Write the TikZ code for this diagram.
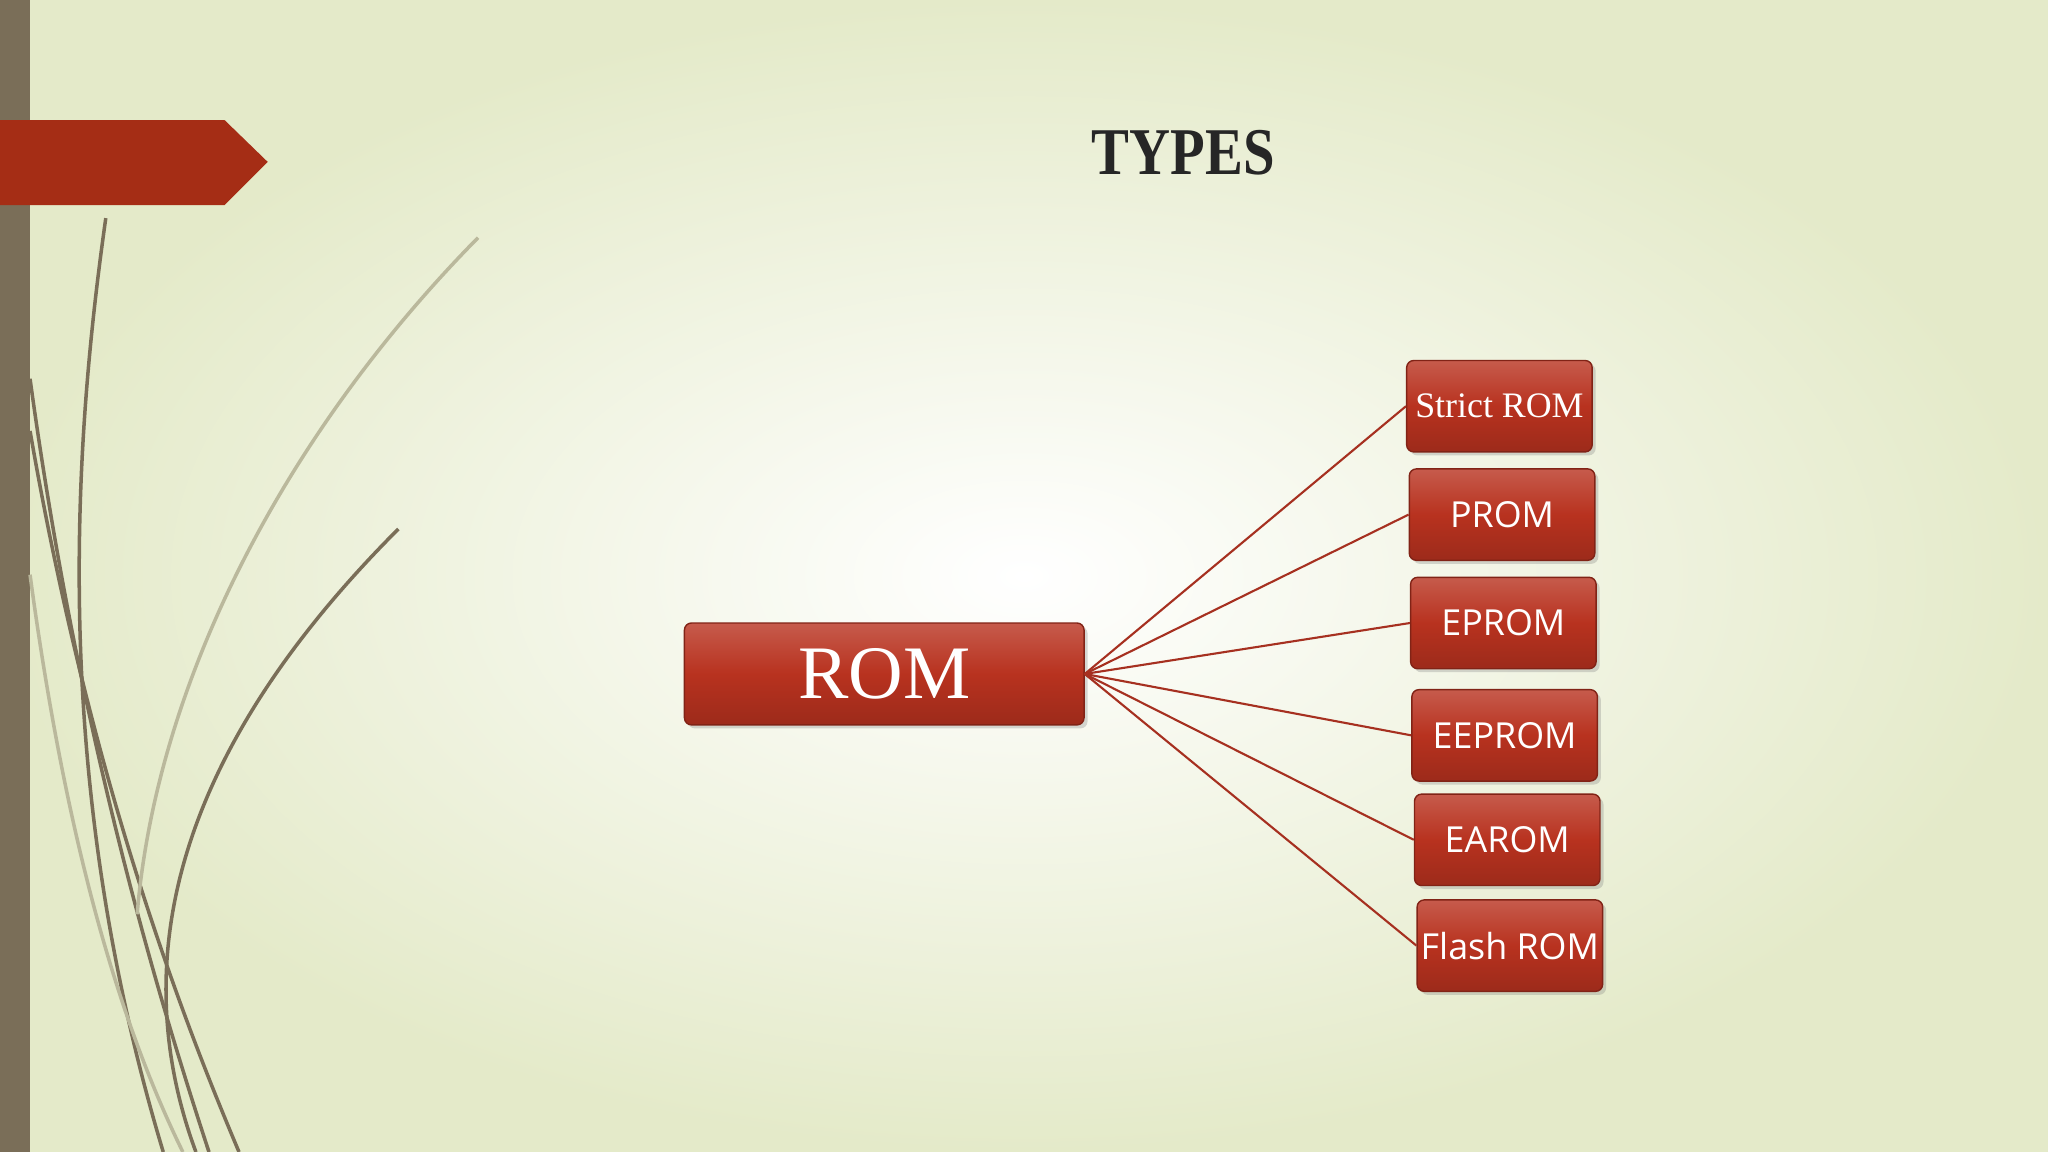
\documentclass[tikz,border=0pt]{standalone}
\usepackage{fontspec}
\setmainfont{Liberation Serif}
\newfontfamily\sansf{Open Sans}
\usetikzlibrary{shadows}
\definecolor{boxred}{HTML}{B8321F}
\definecolor{bardark}{HTML}{7A6E58}
\definecolor{banner}{HTML}{A52D15}
\definecolor{bgedge}{HTML}{E4EAC9}
\definecolor{linered}{HTML}{A63020}
\tikzset{
 rbox/.style={draw=boxred!70!black, rounded corners=2pt, top color=boxred!80!white, bottom color=boxred!85!black, middle color=boxred, text=white, inner sep=0pt, drop shadow={opacity=0.3,shadow xshift=1pt,shadow yshift=-1pt}},
 sbox/.style={rbox, minimum width=1.855cm, minimum height=0.914cm, font=\sansf\fontsize{10.2}{11}\selectfont},
 conn/.style={draw=linered, line width=0.6pt},
 grass/.style={draw=bardark, line width=1pt},
 grasslight/.style={draw=bardark!40!bgedge, line width=1pt}
}
\begin{document}
\begin{tikzpicture}[x=0.01306cm,y=-0.01306cm]
\useasboundingbox (0,0) rectangle (1568,882);
\shade[inner color=white, outer color=bgedge] (0,0) rectangle (1568,882);
\fill[bardark] (0,0) rectangle (23,882);
\fill[banner] (0,92) -- (172,92) -- (205,124) -- (172,157) -- (0,157) -- cycle;
\draw[grass] (81,167) .. controls (55,350) and (40,600) .. (125,882);
\draw[grass] (23,290) .. controls (60,560) and (120,760) .. (160,882);
\draw[grass] (23,330) .. controls (70,600) and (140,780) .. (183,882);
\draw[grass] (305,405) .. controls (150,560) and (90,720) .. (150,882);
\draw[grasslight] (366,182) .. controls (220,330) and (120,520) .. (105,700);
\draw[grasslight] (23,440) .. controls (50,640) and (90,780) .. (140,882);
\node[font=\bfseries\fontsize{19}{19}\selectfont, text=black!85, xscale=0.85, inner sep=0pt] (title) at (906,117) {TYPES};
\node[rbox, minimum width=3.996cm, minimum height=1.019cm, font=\fontsize{21.5}{22}\selectfont] (rom) at (677,516) {ROM};
\node[rbox, minimum width=1.855cm, minimum height=0.914cm, font=\fontsize{10.2}{11}\selectfont] (b1) at (1148,311) {Strict ROM};
\node[sbox] (b2) at (1150,394) {PROM};
\node[sbox] (b3) at (1151,477) {EPROM};
\node[sbox] (b4) at (1152,563) {EEPROM};
\node[sbox] (b5) at (1154,643) {EAROM};
\node[sbox] (b6) at (1156,724) {Flash ROM};
\foreach \b in {b1,b2,b3,b4,b5,b6} \draw[conn] (rom.east) -- (\b.west);
\end{tikzpicture}
\end{document}
